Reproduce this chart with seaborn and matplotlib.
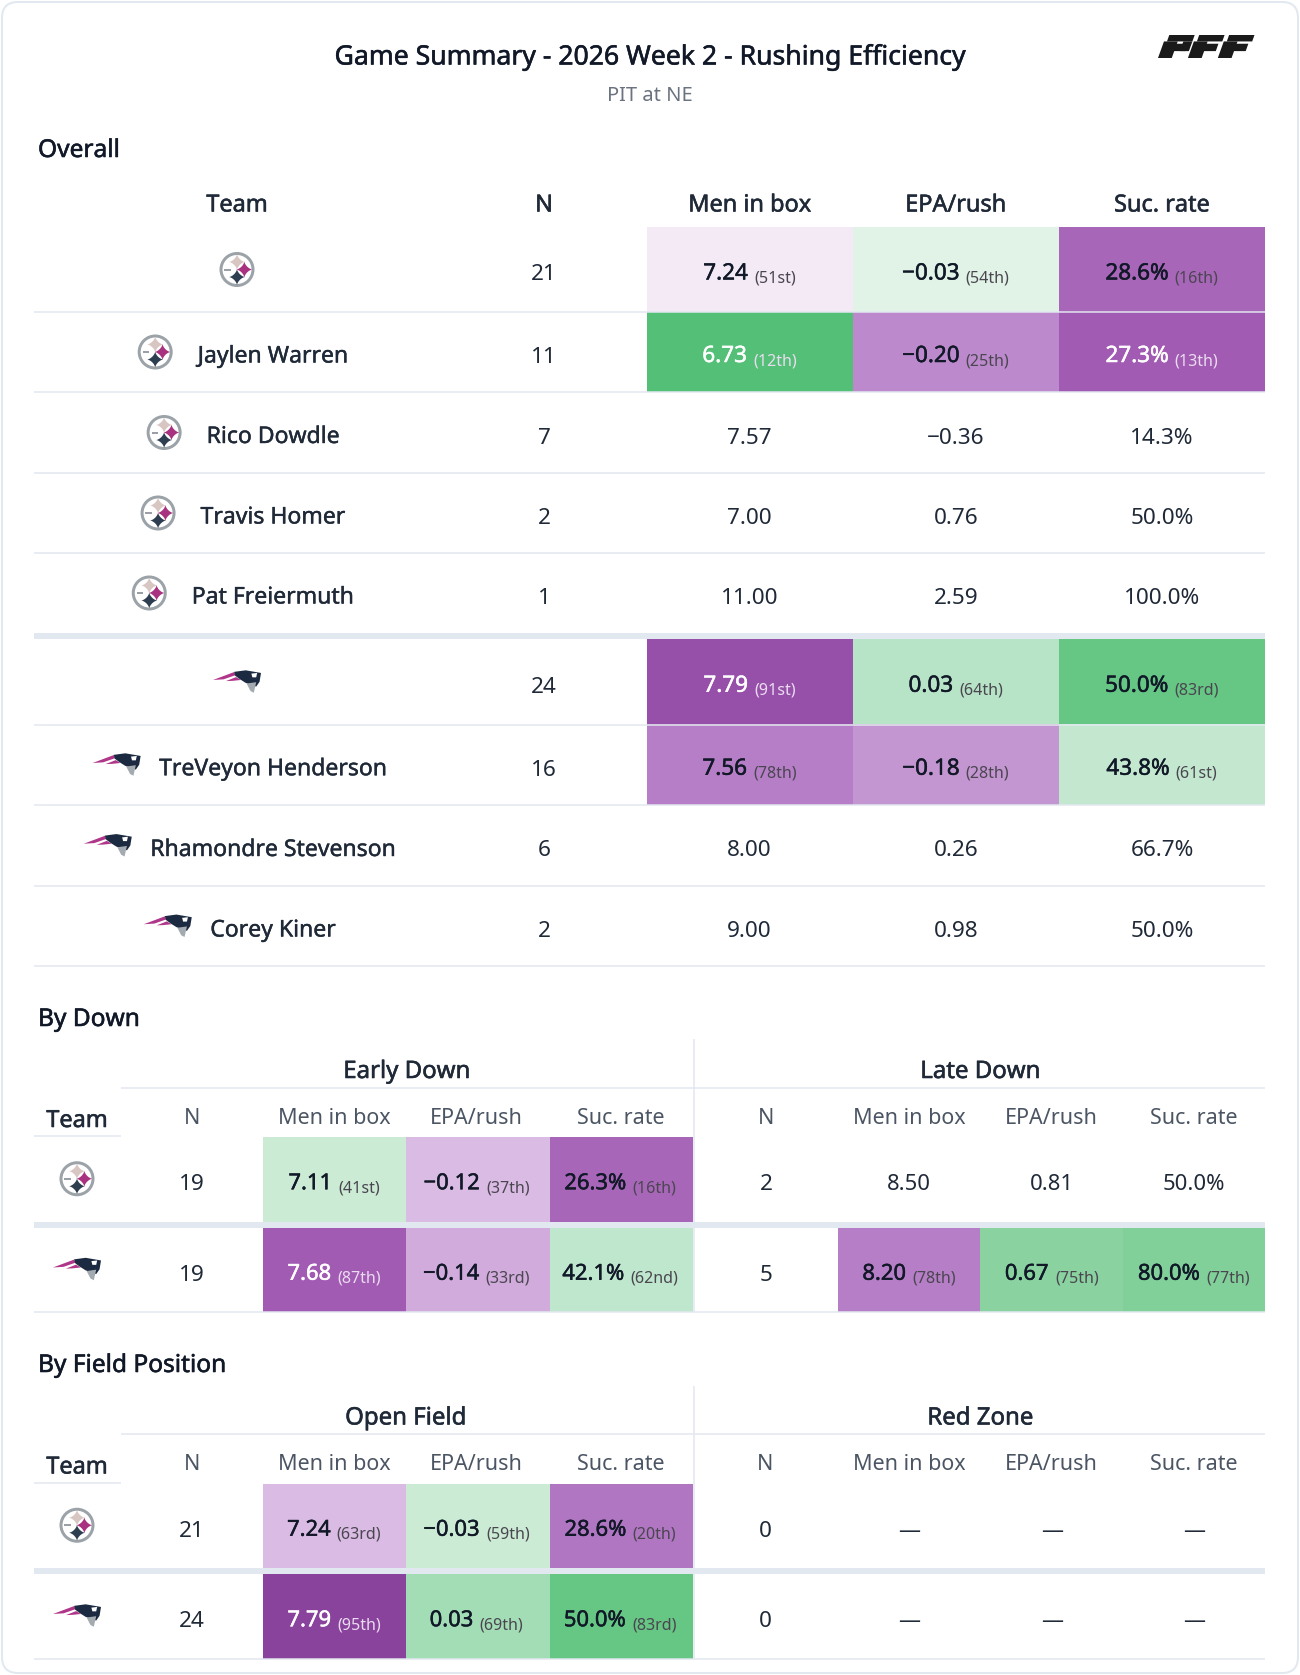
import numpy as np
import matplotlib
matplotlib.use("Agg")
import matplotlib.pyplot as plt
import matplotlib.patheffects as pe
import seaborn as sns
from matplotlib.colors import LinearSegmentedColormap
from matplotlib.patches import Circle, FancyBboxPatch, Polygon

nan = np.nan

# ---- data ----
overall_team = ["PIT", "PIT", "PIT", "PIT", "PIT", "NE", "NE", "NE", "NE"]
overall_player = ["", "Jaylen Warren", "Rico Dowdle", "Travis Homer", "Pat Freiermuth",
                  "", "TreVeyon Henderson", "Rhamondre Stevenson", "Corey Kiner"]
overall_n = [21, 11, 7, 2, 1, 24, 16, 6, 2]
overall_box = [7.24, 6.73, 7.57, 7.00, 11.00, 7.79, 7.56, 8.00, 9.00]
overall_box_pct = [51, 12, nan, nan, nan, 91, 78, nan, nan]
overall_epa = [-0.03, -0.20, -0.36, 0.76, 2.59, 0.03, -0.18, 0.26, 0.98]
overall_epa_pct = [54, 25, nan, nan, nan, 64, 28, nan, nan]
overall_suc = [28.6, 27.3, 14.3, 50.0, 100.0, 50.0, 43.8, 66.7, 50.0]
overall_suc_pct = [16, 13, nan, nan, nan, 83, 61, nan, nan]

split_team = ["PIT", "NE"]
early_n = [19, 19]
early_box = [7.11, 7.68]
early_box_pct = [41, 87]
early_epa = [-0.12, -0.14]
early_epa_pct = [37, 33]
early_suc = [26.3, 42.1]
early_suc_pct = [16, 62]

late_n = [2, 5]
late_box = [8.50, 8.20]
late_box_pct = [nan, 78]
late_epa = [0.81, 0.67]
late_epa_pct = [nan, 75]
late_suc = [50.0, 80.0]
late_suc_pct = [nan, 77]

open_n = [21, 24]
open_box = [7.24, 7.79]
open_box_pct = [63, 95]
open_epa = [-0.03, 0.03]
open_epa_pct = [59, 69]
open_suc = [28.6, 50.0]
open_suc_pct = [20, 83]

red_n = [0, 0]
red_box = [nan, nan]
red_epa = [nan, nan]
red_suc = [nan, nan]
no_pct = [nan, nan]

columns = ["Men in box", "EPA/rush", "Suc. rate"]

# ---- style ----
W, H = 1300, 1675
sns.set_theme(style="white")
plt.rcParams["font.family"] = ["Noto Sans", "DejaVu Sans"]

DARK = "#1f2937"
BLACK = "#111827"
GREY = "#4b5563"
RULE = "#e2e8f0"
RIGHT = 1265


def fs(px):
    return px * 0.72


# purple = bad for the offense, green = good
stops = [(0, "#7e3a90"), (5, "#8b449e"), (13, "#a25bb3"), (25, "#bc8acc"), (37, "#dabce3"),
         (49, "#f3eaf6"), (50, "#fbfbfb"), (54, "#e0f3e6"), (64, "#b7e4c6"), (75, "#8bd4a2"),
         (83, "#66c684"), (88, "#55c077"), (100, "#27ae60")]
cmap = LinearSegmentedColormap.from_list("pff", [(p / 100, c) for p, c in stops])

fig = plt.figure(figsize=(W / 100, H / 100), dpi=100)
fig.patch.set_facecolor("white")
renderer = fig.canvas.get_renderer()

ov = fig.add_axes([0, 0, 1, 1], zorder=5)
ov.set_xlim(0, W)
ov.set_ylim(H, 0)
ov.axis("off")


def rule(x0, x1, y, lw=1.5):
    ov.plot([x0, x1], [y, y], color=RULE, lw=fs(lw), solid_capstyle="butt")


def vrule(x, y0, y1):
    ov.plot([x, x], [y0, y1], color=RULE, lw=fs(1.5), solid_capstyle="butt")


def label(x, y, s, size, color=DARK, stroke=0.0, ha="center"):
    t = ov.text(x, y, s, fontsize=fs(size), color=color, ha=ha, va="baseline")
    if stroke:
        # the heavier weights of the page font are not installed, thicken the regular one
        t.set_path_effects([pe.withStroke(linewidth=stroke, foreground=color)])
    return t


def heat_row(edges, y0, y1, pcts):
    # pcts in column order; men in box is flipped so that a light box is green
    scores = [100 - pcts[0], pcts[1], pcts[2]]
    if np.all(np.isnan(scores)):
        return
    ax = fig.add_axes([edges[0] / W, 1 - y1 / H, (edges[-1] - edges[0]) / W, (y1 - y0) / H], zorder=1)
    sns.heatmap(np.array([scores]), ax=ax, cmap=cmap, vmin=0, vmax=100, cbar=False,
                xticklabels=False, yticklabels=False)


def ordinal(p):
    p = int(p)
    suffix = "th" if 10 <= p % 100 <= 20 else {1: "st", 2: "nd", 3: "rd"}.get(p % 10, "th")
    return f"({p}{suffix})"


def value_cell(cx, cy, text, pct, score, size=22.5):
    if np.isnan(pct):
        label(cx, cy + 11, text, size, DARK)
        return
    strong = score <= 15 or score >= 85
    vc = "white" if strong else BLACK
    pc = "#eadcf0" if strong else "#4a4650"
    gap = 6
    t1 = label(cx, cy + 10, text, size, vc, stroke=0.35, ha="left")
    t2 = label(cx, cy + 13, ordinal(pct), 16, pc, ha="left")
    w1 = t1.get_window_extent(renderer).width
    w2 = t2.get_window_extent(renderer).width
    left = cx - (w1 + gap + w2) / 2
    t1.set_x(left)
    t2.set_x(left + w1 + gap)


def fmt_box(v):
    return "—" if np.isnan(v) else f"{v:.2f}"


def fmt_epa(v):
    return "—" if np.isnan(v) else f"{v:.2f}".replace("-", "−")


def fmt_suc(v):
    return "—" if np.isnan(v) else f"{v:.1f}%"


def astroid(cx, cy, r, color):
    t = np.linspace(0, 2 * np.pi, 41)
    ov.fill(cx + r * np.cos(t) ** 3, cy + r * np.sin(t) ** 3, color=color, lw=0)


def steelers(cx, cy, r=17.5):
    ov.add_patch(Circle((cx, cy), r - 1.5, fc="white", ec="#9ca3a8", lw=fs(3)))
    astroid(cx, cy - 0.43 * r, 0.46 * r, "#d8c6c2")
    astroid(cx + 0.42 * r, cy, 0.46 * r, "#a8327f")
    astroid(cx, cy + 0.43 * r, 0.46 * r, "#2c3e50")
    ov.plot([cx - 0.72 * r, cx - 0.34 * r], [cy, cy], color="#7b818a", lw=fs(1.5), solid_capstyle="butt")


def patriots(cx, cy):
    # outline in 48x22 box, centred on the logo
    def pts(lst):
        return [(cx - 24 + x * 48, cy - 11 + y * 22) for x, y in lst]
    ov.add_patch(Polygon(pts([(0, .42), (.44, .06), (.47, .2), (.22, .39)]), fc="#b0368a", lw=0))
    ov.add_patch(Polygon(pts([(.27, .47), (.48, .29), (.58, .42), (.4, .46)]), fc="#b0368a", lw=0))
    ov.add_patch(Polygon(pts([(.44, .05), (.68, -.02), (1, .1), (.97, .5), (.9, .72), (.68, .55),
                              (.55, .37), (.46, .22)]), fc="#1b2a41", lw=0))
    ov.add_patch(Polygon(pts([(.7, .58), (.9, .52), (.85, 1), (.78, .92)]), fc="#a4abb0", lw=0))
    ov.add_patch(Polygon(pts([(.8, .13), (.92, .1), (.9, .3), (.82, .3)]), fc="white", lw=0))


def team_logo(team, cx, cy):
    if team == "PIT":
        steelers(cx, cy)
    else:
        patriots(cx, cy)


def pff_logo(x0, x1, y0, y1):
    h = y1 - y0
    shear = 0.36 * h
    w = (x1 - x0 - shear) / 3

    def bar(lx, rx, top, bot):
        # fractions of letter box, sheared to the right going up
        corners = [(lx, bot), (rx, bot), (rx, top), (lx, top)]
        ov.add_patch(Polygon([(l + shear * f, y0 + (1 - f) * h) for l, f in corners], fc="#1a1a1a", lw=0))

    for i in range(3):
        left = x0 + i * w
        right = left + w - 1.5
        mid = left + 0.46 * w
        bar(left, mid, .72, 0)
        bar(left + 3, right, 1, .72)
        bar(left + 6, right - 3, .62, .30)
        if i == 0:
            bar(right - 9, right, .72, .30)


# ---- page ----
ov.add_patch(FancyBboxPatch((2, 2), W - 4, H - 4, boxstyle="round,pad=0,rounding_size=16",
                            fc="none", ec=RULE, lw=fs(2), zorder=0))

label(649.5, 64.5, "Game Summary - 2026 Week 2 - Rushing Efficiency", 26.6, BLACK, stroke=0.4)
label(649.5, 101, "PIT at NE", 20, "#6b7280")
pff_logo(1158, 1256, 35, 58)

# ---- Overall ----
label(38, 157, "Overall", 24.5, BLACK, stroke=0.4, ha="left")
cols_x = [646.5, 852.5, 1059, RIGHT]
rows_y = [227, 312, 392, 473, 553, 633, 639, 724.5, 805, 886, 966]
row_tops = rows_y[:5] + rows_y[6:10]
row_bots = rows_y[1:6] + rows_y[7:]

label(237, 211.5, "Team", 23.5, DARK, stroke=0.4)
label(544, 211.5, "N", 23.5, DARK, stroke=0.4)
for j, c in enumerate(columns):
    label((cols_x[j] + cols_x[j + 1]) / 2, 211.5, c, 23.5, DARK, stroke=0.4)

for i, team in enumerate(overall_team):
    y0, y1 = row_tops[i], row_bots[i]
    cy = (y0 + y1) / 2
    pcts = [overall_box_pct[i], overall_epa_pct[i], overall_suc_pct[i]]
    heat_row(cols_x, y0, y1, pcts)
    if overall_player[i]:
        t = label(273, cy + 10.5, overall_player[i], 23, DARK, stroke=0.3)
        team_logo(team, t.get_window_extent(renderer).x0 - 42.5, cy)
    else:
        team_logo(team, 237, cy)
    label(544, cy + 11, str(overall_n[i]), 22.5)
    texts = [fmt_box(overall_box[i]), fmt_epa(overall_epa[i]), fmt_suc(overall_suc[i])]
    scores = [100 - pcts[0], pcts[1], pcts[2]]
    for j in range(3):
        value_cell((cols_x[j] + cols_x[j + 1]) / 2, cy, texts[j], pcts[j], scores[j])
    if y1 != 633:
        rule(34, RIGHT, y1)
rule(34, RIGHT, 636, lw=6)


# ---- split tables ----
def split_table(title, title_y, top, groups):
    # top is the y of the first coloured row
    label(38, title_y, title, 24.5, BLACK, stroke=0.4, ha="left")
    rows = [(top, top + 84.5), (top + 90.5, top + 175)]
    vrule(693.5, top - 98, top + 175)
    rule(121, RIGHT, top - 49.5)
    label(77, top - 10, "Team", 23.5, DARK, stroke=0.4)
    rule(34, 121, top - 1)
    for i, team in enumerate(split_team):
        team_logo(team, 77, sum(rows[i]) / 2 - 0.5)
    rule(34, RIGHT, top + 87.5, lw=6)
    rule(34, RIGHT, top + 175)
    for name, centre, n_x, cols, n, box, box_p, epa, epa_p, suc, suc_p in groups:
        label(centre, top - 59, name, 24, DARK, stroke=0.4)
        label(n_x, top - 13, "N", 21.5, GREY)
        for j, c in enumerate(columns):
            label((cols[j] + cols[j + 1]) / 2, top - 13, c, 21.5, GREY)
        for i in range(2):
            y0, y1 = rows[i]
            cy = (y0 + y1) / 2
            pcts = [box_p[i], epa_p[i], suc_p[i]]
            heat_row(cols, y0, y1, pcts)
            label(n_x, cy + 11, str(n[i]), 22.5)
            texts = [fmt_box(box[i]), fmt_epa(epa[i]), fmt_suc(suc[i])]
            scores = [100 - pcts[0], pcts[1], pcts[2]]
            for j in range(3):
                value_cell((cols[j] + cols[j + 1]) / 2, cy, texts[j], pcts[j], scores[j], size=22)


left_cols = [263, 405.5, 547.7, 693]
right_cols = [837.7, 980.5, 1123, RIGHT]

split_table("By Down", 1026, 1137, [
    ("Early Down", 407, 192, left_cols, early_n, early_box, early_box_pct, early_epa, early_epa_pct,
     early_suc, early_suc_pct),
    ("Late Down", 980.5, 766, right_cols, late_n, late_box, late_box_pct, late_epa, late_epa_pct,
     late_suc, late_suc_pct),
])
split_table("By Field Position", 1372, 1483.5, [
    ("Open Field", 406, 192, left_cols, open_n, open_box, open_box_pct, open_epa, open_epa_pct,
     open_suc, open_suc_pct),
    ("Red Zone", 980.5, 765, right_cols, red_n, red_box, no_pct, red_epa, no_pct, red_suc, no_pct),
])

fig.savefig("out.png", dpi=100, facecolor="white")
